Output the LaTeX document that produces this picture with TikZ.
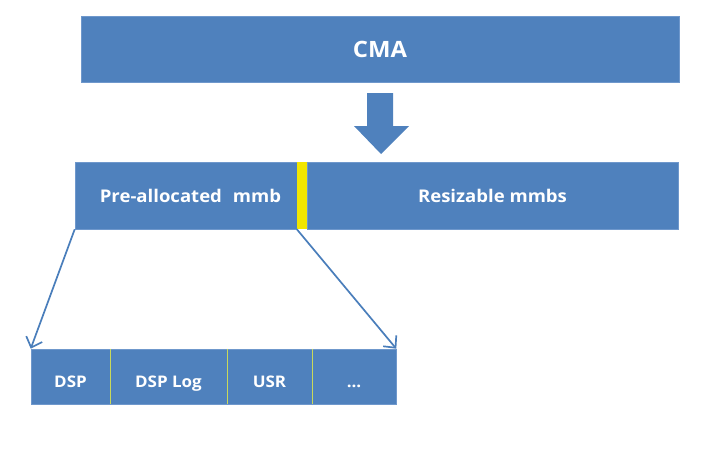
\documentclass[tikz,border=0pt]{standalone}
\usepackage{fontspec}
\setmainfont{Open Sans}
\newfontfamily\boxfont[FakeStretch=1.06]{Open Sans}
\usetikzlibrary{arrows.meta}
\definecolor{obl}{HTML}{4F81BD}
\definecolor{obd}{HTML}{6F98CC}
\definecolor{oline}{HTML}{4A7EBB}
\definecolor{oyel}{HTML}{F2E600}
\definecolor{odiv}{HTML}{C9D95A}
\tikzset{
  blk/.style={fill=obl, draw=obd, line width=0.6pt, inner sep=0pt, text=white, font=\boxfont\bfseries},
  conn/.style={draw=oline, line width=1.7pt, -{Straight Barb[length=9pt,width=17pt,line width=1.7pt]}}
}
\begin{document}
\begin{tikzpicture}[x=1pt,y=-1pt]
\useasboundingbox (0,0) rectangle (709,455);
\node[blk, minimum width=598pt, minimum height=66pt, font=\boxfont\bfseries\fontsize{22.5}{26}\selectfont] (cma) at (380,49) {\raisebox{-1pt}{CMA}};
\node[blk, minimum width=222pt, minimum height=67pt, font=\boxfont\bfseries\fontsize{17.5}{20}\selectfont] (pre) at (186,195.5) {\raisebox{-3pt}{\hspace*{9pt}Pre-allocated\hspace{11pt}mmb}};
\node[fill=oyel, inner sep=0pt, minimum width=10pt, minimum height=67pt] (yel) at (302,195.5) {};
\node[blk, minimum width=371pt, minimum height=67pt, font=\boxfont\bfseries\fontsize{17.5}{20}\selectfont] (res) at (492.5,195.5) {\raisebox{-3pt}{Resizable mmbs}};
\begin{scope}[every node/.style={blk, minimum height=55pt, text height=26pt, text depth=3.5pt, font=\boxfont\bfseries\fontsize{16}{18}\selectfont}]
\node[minimum width=79pt] (dsp) at (70.5,376.5) {DSP};
\node[minimum width=117pt] (dlog) at (168.5,376.5) {DSP Log};
\node[minimum width=85pt] (usr) at (269.5,376.5) {USR};
\node[minimum width=84pt] (dots) at (354,376.5) {...};
\end{scope}
\draw[odiv, line width=1pt] (dsp.north east) -- (dsp.south east);
\draw[odiv, line width=1pt] (dlog.north east) -- (dlog.south east);
\draw[odiv, line width=1pt] (usr.north east) -- (usr.south east);
\fill[obl] (367,93) -- (393,93) -- (393,126) -- (409,126) -- (381,154) -- (354,126) -- (367,126) -- cycle;
\draw[conn] (pre.south west) -- (dsp.north west);
\draw[conn] (yel.south west) -- (dots.north east);
\end{tikzpicture}
\end{document}
